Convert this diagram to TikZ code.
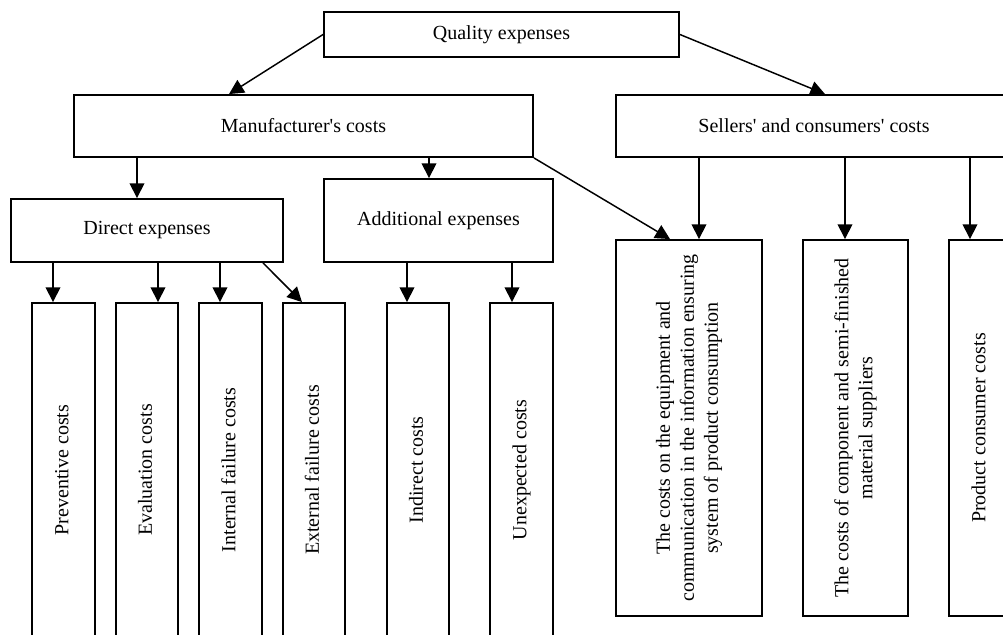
\documentclass[tikz,border=0pt]{standalone}
\usepackage{fontspec}
\setmainfont{Liberation Serif}
\usetikzlibrary{arrows.meta}
\def\px{0.75pt}
\tikzset{
  box/.style={draw, line width=1.4pt, inner sep=0pt, align=center,
    font=\fontsize{15}{18}\selectfont},
  arr/.style={line width=1.1pt, -{Triangle[length=11pt,width=11pt]}}
}
\newcommand{\vtext}[1]{\rotatebox{90}{\begin{tabular}{@{}c@{}}#1\end{tabular}}}
\begin{document}
\begin{tikzpicture}[x=0.75pt,y=-0.75pt]
\useasboundingbox (0,0) rectangle (1003,635);
\clip (0,0) rectangle (1003,635);
% top levels
\node[box, minimum width=355*\px, minimum height=45*\px] (q) at (501.5,34.5) {Quality expenses};
\node[box, minimum width=459*\px, minimum height=62*\px] (man) at (303.5,126) {Manufacturer\textquotesingle s costs};
\node[box, minimum width=396*\px, minimum height=62*\px] (sel) at (814,126) {Sellers\textquotesingle{} and consumers\textquotesingle{} costs};
\node[box, minimum width=272*\px, minimum height=63*\px] (dir) at (147,230.5) {Direct expenses};
\node[box, minimum width=229*\px, minimum height=83*\px] (add) at (438.5,220.5) {Additional expenses};
% bottom boxes
\foreach \n/\c/\t in {pre/63.5/Preventive costs, eva/147/Evaluation costs, int/230.5/Internal failure costs, ext/314/External failure costs, ind/418/Indirect costs, une/521.5/Unexpected costs}{
  \node[box, minimum width=62.5*\px, minimum height=334*\px] (\n) at (\c,470) {\vtext{\t}};
}
\node[box, minimum width=146*\px, minimum height=376*\px] (eq) at (689,428)
  {\vtext{The costs on the equipment and\\communication in the information ensuring\\system of product consumption}};
\node[box, minimum width=105*\px, minimum height=376*\px] (comp) at (855.5,428)
  {\vtext{The costs of component and semi-finished\\material suppliers}};
\node[box, minimum width=63*\px, minimum height=376*\px] (prod) at (980.5,428)
  {\vtext{Product consumer costs}};
% target coordinates
\coordinate (tman) at ([xshift=-74.5*\px]man.north);
\coordinate (tsel) at ([xshift=11*\px]sel.north);
\coordinate (tdir) at ([xshift=-10*\px]dir.north);
\coordinate (tadd) at ([xshift=-9.5*\px]add.north);
\coordinate (teqa) at ([xshift=-19*\px]eq.north);
\coordinate (teqb) at ([xshift=10*\px]eq.north);
\coordinate (tcomp) at ([xshift=-10.5*\px]comp.north);
\coordinate (tprod) at ([xshift=-10.5*\px]prod.north);
\coordinate (tpre) at ([xshift=-10.5*\px]pre.north);
\coordinate (teva) at ([xshift=11*\px]eva.north);
\coordinate (tint) at ([xshift=-10.5*\px]int.north);
\coordinate (text) at ([xshift=-12*\px]ext.north);
\coordinate (sext) at ([xshift=116*\px]dir.south);
\coordinate (tind) at ([xshift=-11*\px]ind.north);
\coordinate (tune) at ([xshift=-9.5*\px]une.north);
% connectors
\draw[arr] (q.west) -- (tman);
\draw[arr] (q.east) -- (tsel);
\draw[arr] (tdir |- man.south) -- (tdir);
\draw[arr] (tadd |- man.south) -- (tadd);
\draw[arr] (man.south east) -- (teqa);
\draw[arr] (teqb |- sel.south) -- (teqb);
\draw[arr] (tcomp |- sel.south) -- (tcomp);
\draw[arr] (tprod |- sel.south) -- (tprod);
\draw[arr] (tpre |- dir.south) -- (tpre);
\draw[arr] (teva |- dir.south) -- (teva);
\draw[arr] (tint |- dir.south) -- (tint);
\draw[arr] (sext) -- (text);
\draw[arr] (tind |- add.south) -- (tind);
\draw[arr] (tune |- add.south) -- (tune);
\end{tikzpicture}
\end{document}
